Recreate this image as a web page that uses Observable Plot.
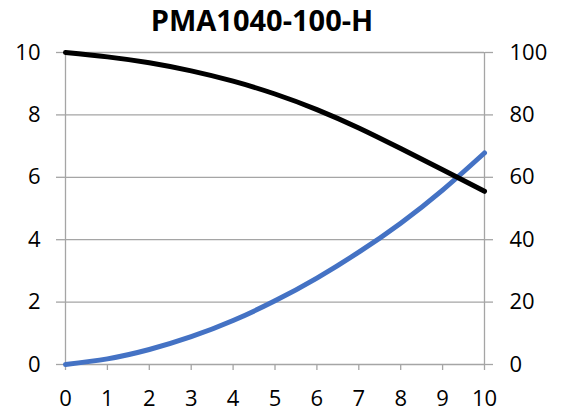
<!DOCTYPE html>
<html>
<head>
<meta charset="utf-8">
<script src="https://cdn.jsdelivr.net/npm/d3@7"></script>
<script src="https://cdn.jsdelivr.net/npm/@observablehq/plot@0.6"></script>
<style>
  body { margin: 0; background: #fff; }
  #wrap { position: relative; width: 566px; height: 417px; background: #fff; }
  #title { position: absolute; left: 0; top: 0; width: 524px; text-align: center;
           font-family: "Open Sans", sans-serif; font-weight: 700; font-size: 29px; line-height: normal; color: #000; white-space: nowrap; }
  #chart { position: absolute; left: 0; top: 40px; }
</style>
</head>
<body>
<div id="wrap">
  <div id="title">PMA1040-100-H</div>
  <div id="chart"></div>
</div>
<script>
const xValues = [0, 1, 2, 3, 4, 5, 6, 7, 8, 9, 10];
const headValues = [10, 9.86, 9.67, 9.41, 9.08, 8.67, 8.17, 7.58, 6.92, 6.24, 5.55];   // left axis
const effValues = [0, 1.8, 4.8, 8.9, 14.1, 20.4, 27.7, 36.0, 45.3, 55.9, 67.8];        // right axis
const leftTicks = [0, 2, 4, 6, 8, 10];
const rightTickLabels = ["0", "20", "40", "60", "80", "100"];
const xTicks = [0, 1, 2, 3, 4, 5, 6, 7, 8, 9, 10];
const title = "PMA1040-100-H";

document.getElementById("title").textContent = title;

const data = xValues.map((x, i) => ({x, head: headValues[i], eff: effValues[i]}));
const rightScale = leftTicks[leftTicks.length - 1] / 100; // right axis 0–100 mapped onto left 0–10

const grey = "#a5a5a5";
const chart = Plot.plot({
  width: 566,
  height: 377,
  marginTop: 12,
  marginBottom: 53,
  marginLeft: 65,
  marginRight: 82,
  style: {fontFamily: "'Open Sans', sans-serif", fontSize: "22px", color: "#000", background: "#fff", overflow: "visible"},
  x: {domain: [xTicks[0], xTicks[xTicks.length - 1]], label: null},
  y: {domain: [leftTicks[0], leftTicks[leftTicks.length - 1]], label: null},
  marks: [
    Plot.ruleY(leftTicks, {stroke: grey, strokeWidth: 1.3}),
    Plot.ruleX([xTicks[0], xTicks[xTicks.length - 1]], {stroke: grey, strokeWidth: 1.3}),
    Plot.axisY(leftTicks, {anchor: "left", tickSize: 9, tickPadding: 16, stroke: grey, strokeWidth: 1.3, fill: "#000", fontSize: 22, label: null}),
    Plot.axisY(leftTicks, {anchor: "right", tickSize: 8, tickPadding: 17, stroke: grey, strokeWidth: 1.3, fill: "#000", fontSize: 22, label: null,
      tickFormat: (d) => rightTickLabels[leftTicks.indexOf(d)]}),
    Plot.axisX(xTicks, {anchor: "bottom", tickSize: 6, tickPadding: 20, stroke: grey, strokeWidth: 1.3, fill: "#000", fontSize: 22, label: null}),
    Plot.line(data, {x: "x", y: (d) => d.eff * rightScale, stroke: "#4472C4", strokeWidth: 5, curve: "natural", strokeLinecap: "round"}),
    Plot.line(data, {x: "x", y: "head", stroke: "#000", strokeWidth: 5, curve: "natural", strokeLinecap: "round"})
  ]
});
document.getElementById("chart").appendChild(chart);
</script>
</body>
</html>
